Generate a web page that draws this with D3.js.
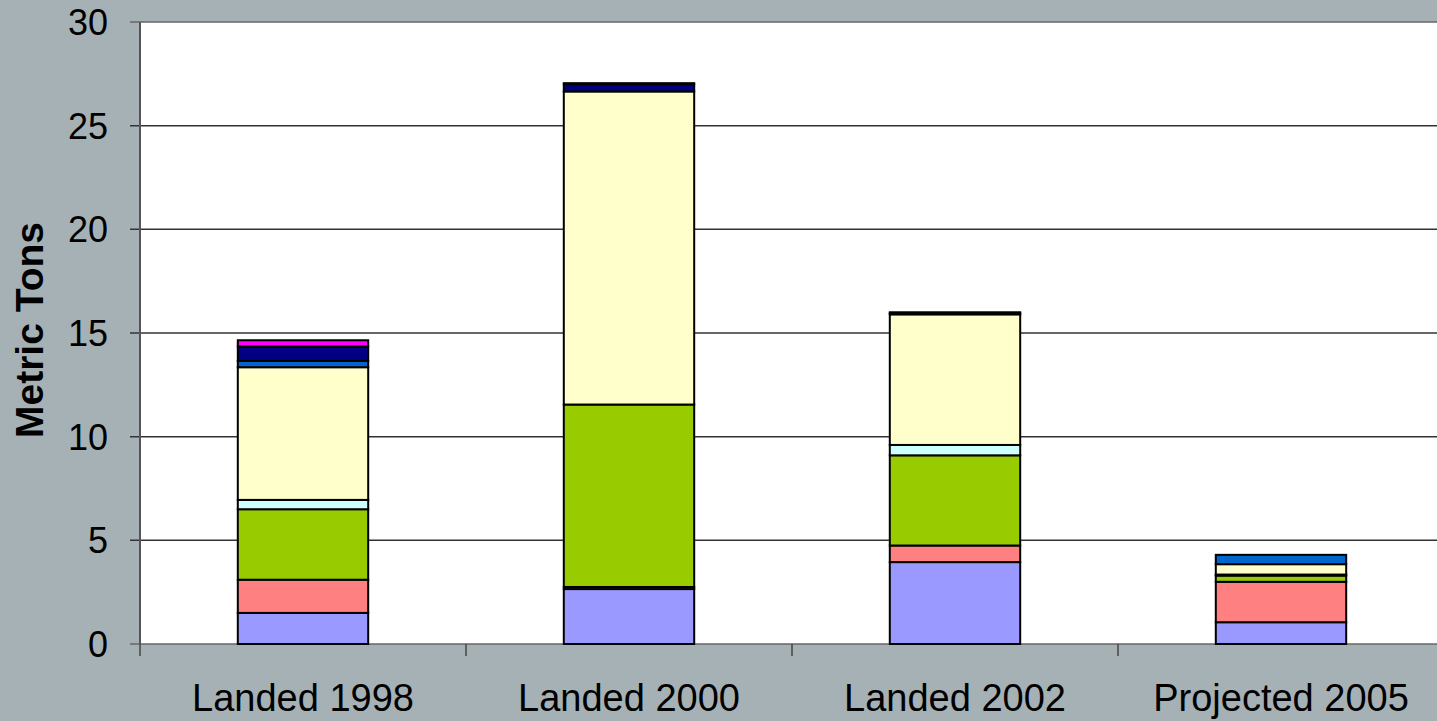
<!DOCTYPE html>
<html>
<head>
<meta charset="utf-8">
<script src="https://cdn.jsdelivr.net/npm/d3@7"></script>
<style>
  body { margin: 0; background: #a6b1b5; overflow: hidden; }
  svg { display: block; font-family: Arial, "Liberation Sans", sans-serif; }
</style>
</head>
<body>
<svg id="chart"></svg>
<script>
var width = 1437, height = 721

// categories and stacked series (bottom to top), metric tons
var categories = ["Landed 1998", "Landed 2000", "Landed 2002", "Projected 2005"]
var lavender = [1.5, 2.65, 3.95, 1.05]
var salmon   = [1.6, 0.1, 0.8, 1.95]
var green    = [3.4, 8.8, 4.35, 0.3]
var cyan     = [0.45, 0, 0.5, 0.05]
var yellow   = [6.4, 15.1, 6.3, 0.5]
var midBlue  = [0.3, 0, 0.05, 0.45]
var navy     = [0.7, 0.35, 0.05, 0]
var magenta  = [0.3, 0.05, 0, 0]
var yTicks = [0, 5, 10, 15, 20, 25, 30]

var seriesKeys = ["lavender", "salmon", "green", "cyan", "yellow", "midBlue", "navy", "magenta"]
var seriesVals = [lavender, salmon, green, cyan, yellow, midBlue, navy, magenta]
var colors = ["#9999ff", "#ff8080", "#99cc00", "#ccffff", "#ffffcc", "#0066cc", "#000080", "#ff00ff"]

var rows = categories.map(function(c, i) {
    var r = {cat: c}
    seriesKeys.forEach(function(k, j) { r[k] = seriesVals[j][i] })
    return r
})

var margin = {left: 140, top: 22, bottom: 77}
var band = 326
var plotRight = margin.left + band * categories.length

var svg = d3.select("#chart")
    .attr("width", width)
    .attr("height", height)

var x = d3.scaleBand()
    .domain(categories)
    .range([margin.left, plotRight])
    .paddingInner(0.6)
    .paddingOuter(0.3)

var y = d3.scaleLinear()
    .domain([0, 30])
    .range([height - margin.bottom, margin.top])

// plot area
svg.append("rect")
    .attr("x", margin.left)
    .attr("y", y(30))
    .attr("width", plotRight - margin.left)
    .attr("height", y(0) - y(30))
    .attr("fill", "white")

// gridlines
svg.append("g")
    .selectAll("line")
    .data(yTicks)
    .enter()
    .append("line")
        .attr("x1", margin.left - 10)
        .attr("x2", plotRight)
        .attr("y1", function(d) { return y(d) })
        .attr("y2", function(d) { return y(d) })
        .attr("stroke", function(d) { return d == 0 || d == 30 ? "#666" : "#333" })
        .attr("stroke-width", 1.5)

var stack = d3.stack().keys(seriesKeys)
var layers = stack(rows)

svg.append("g")
    .selectAll("g")
    .data(layers)
    .enter()
    .append("g")
        .attr("fill", function(d, i) { return colors[i] })
    .selectAll("rect")
    .data(function(d) { return d })
    .enter()
    .append("rect")
        .attr("x", function(d) { return x(d.data.cat) })
        .attr("width", x.bandwidth())
        .attr("y", function(d) { return y(d[1]) })
        .attr("height", function(d) { return y(d[0]) - y(d[1]) })
        .attr("stroke", "black")
        .attr("stroke-width", 2)

// y axis
svg.append("line")
    .attr("x1", margin.left).attr("x2", margin.left)
    .attr("y1", y(30)).attr("y2", y(0))
    .attr("stroke", "#555")
    .attr("stroke-width", 2)

svg.append("g")
    .selectAll("text")
    .data(yTicks)
    .enter()
    .append("text")
        .attr("x", 108)
        .attr("y", function(d) { return y(d) })
        .attr("dy", "0.36em")
        .attr("text-anchor", "end")
        .attr("font-size", 36)
        .attr("fill", "black")
        .text(function(d) { return d })

// x axis ticks between categories
var xTickPos = d3.range(categories.length + 1).map(function(i) { return margin.left + band * i })
svg.append("g")
    .selectAll("line")
    .data(xTickPos)
    .enter()
    .append("line")
        .attr("x1", function(d) { return d })
        .attr("x2", function(d) { return d })
        .attr("y1", y(0))
        .attr("y2", y(0) + 12)
        .attr("stroke", "#444")
        .attr("stroke-width", 1.5)

svg.append("g")
    .selectAll("text")
    .data(categories)
    .enter()
    .append("text")
        .attr("x", function(d) { return x(d) + x.bandwidth() / 2 })
        .attr("y", 711)
        .attr("text-anchor", "middle")
        .attr("font-size", 38)
        .attr("fill", "black")
        .text(function(d) { return d })

svg.append("text")
    .attr("transform", "translate(43," + ((y(0) + y(30)) / 2 - 3) + ") rotate(-90)")
    .attr("text-anchor", "middle")
    .attr("font-size", 39)
    .attr("font-weight", "bold")
    .attr("fill", "black")
    .text("Metric Tons")
</script>
</body>
</html>
